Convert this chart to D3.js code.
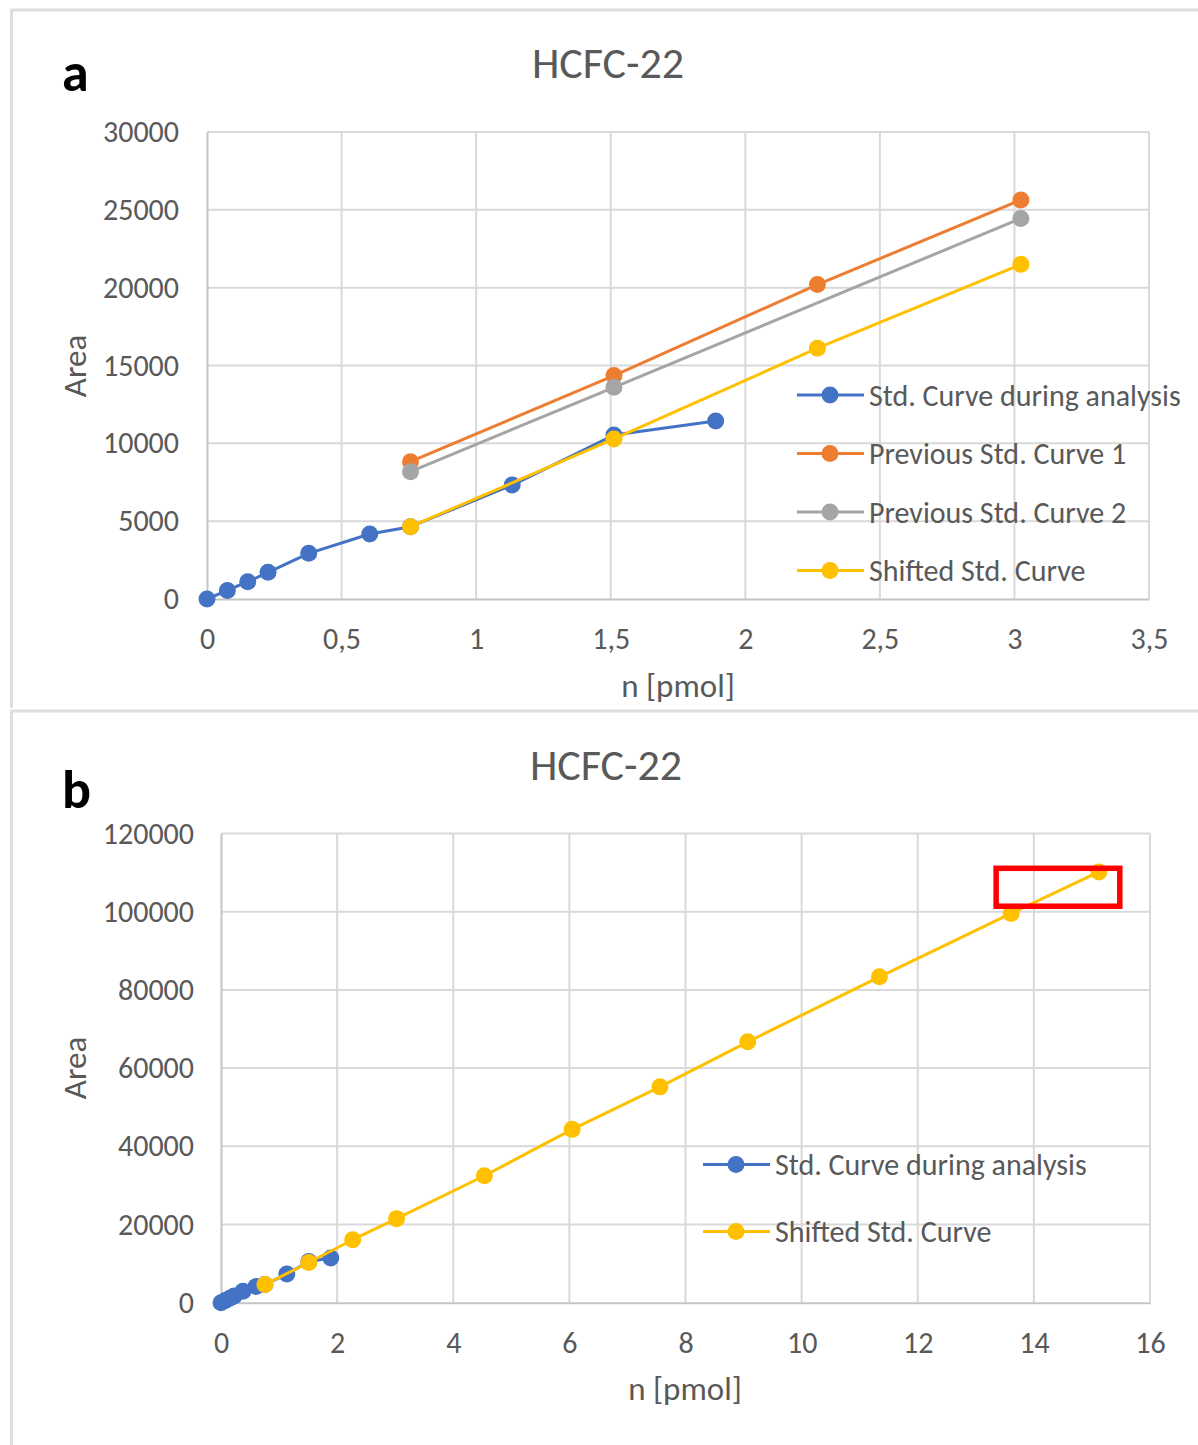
<!DOCTYPE html>
<html>
<head>
<meta charset="utf-8">
<script src="https://cdn.jsdelivr.net/npm/d3@7"></script>
<style>
  html, body { margin: 0; padding: 0; background: #fff; }
  svg { display: block; }
  text { font-family: Carlito, Calibri, Lato, "Open Sans", sans-serif; fill: #595959; }
</style>
</head>
<body>
<svg id="fig" width="1198" height="1445"></svg>
<script>
// ---- data -------------------------------------------------------------
// amounts (pmol) and peak areas for HCFC-22 calibration
const duringX   = [0, 0.0756, 0.1512, 0.2268, 0.378, 0.6048, 0.756, 1.134, 1.512, 1.89];
const duringY   = [0, 550, 1110, 1715, 2935, 4175, 4645, 7320, 10530, 11430];

const prev1X    = [0.756, 1.512, 2.268, 3.024];
const prev1Y    = [8820, 14350, 20200, 25630];

const prev2X    = [0.756, 1.512, 3.024];
const prev2Y    = [8180, 13600, 24450];

const shiftedX  = [0.756, 1.512, 2.268, 3.024, 4.536, 6.048, 7.56, 9.072, 11.34, 13.608, 15.12];
const shiftedY  = [4645, 10280, 16110, 21500, 32470, 44330, 55200, 66720, 83340, 99550, 110180];

// panel a shows the shifted curve only up to 3.024 pmol
const shiftedShortCount = 4;

// highlighted region in panel b (pmol, area)
const highlightX = [13.35, 15.48];
const highlightY = [101400, 111100];

const xTicksA = [0, 0.5, 1, 1.5, 2, 2.5, 3, 3.5];
const yTicksA = [0, 5000, 10000, 15000, 20000, 25000, 30000];
const xTicksB = [0, 2, 4, 6, 8, 10, 12, 14, 16];
const yTicksB = [0, 20000, 40000, 60000, 80000, 100000, 120000];

const seriesNames = ["Std. Curve during analysis", "Previous Std. Curve 1", "Previous Std. Curve 2", "Shifted Std. Curve"];
const colors = { during: "#4472C4", prev1: "#ED7D31", prev2: "#A5A5A5", shifted: "#FFC000" };

const zip = (xs, ys) => xs.map((x, i) => ({ x, y: ys[i] }));

// ---- drawing ---------------------------------------------------------
const svg = d3.select("#fig");

// panel frames
svg.append("path")
  .attr("d", "M11.5,708 V10 H1198")
  .attr("fill", "none").attr("stroke", "#dedede").attr("stroke-width", 3);
svg.append("path")
  .attr("d", "M11.5,1445 V711 H1198")
  .attr("fill", "none").attr("stroke", "#dedede").attr("stroke-width", 3);

const fmtComma = d => String(d).replace(".", ",");

function panel(cfg) {
  const g = svg.append("g");
  const x = d3.scaleLinear().domain(cfg.xDomain).range([cfg.left, cfg.right]);
  const y = d3.scaleLinear().domain(cfg.yDomain).range([cfg.bottom, cfg.top]);

  // gridlines
  g.append("g").selectAll("line.v").data(cfg.xTicks.slice(1)).join("line")
    .attr("x1", d => x(d)).attr("x2", d => x(d))
    .attr("y1", cfg.top).attr("y2", cfg.bottom)
    .attr("stroke", "#d9d9d9").attr("stroke-width", 2);
  g.append("g").selectAll("line.h").data(cfg.yTicks.slice(1)).join("line")
    .attr("x1", cfg.left).attr("x2", cfg.right)
    .attr("y1", d => y(d)).attr("y2", d => y(d))
    .attr("stroke", "#d9d9d9").attr("stroke-width", 2);

  // axes
  const xAxis = g.append("g").attr("transform", `translate(0,${cfg.bottom})`)
    .call(d3.axisBottom(x).tickValues(cfg.xTicks).tickSize(0).tickPadding(29).tickFormat(cfg.xFormat));
  xAxis.select(".domain").attr("stroke", "#c4c4c4").attr("stroke-width", 2);
  xAxis.selectAll("text").attr("font-size", 30).attr("fill", "#595959");

  const yAxis = g.append("g").attr("transform", `translate(${cfg.left},0)`)
    .call(d3.axisLeft(y).tickValues(cfg.yTicks).tickSize(0).tickPadding(cfg.yPad).tickFormat(d => String(d)));
  yAxis.select(".domain").attr("stroke", "#c4c4c4").attr("stroke-width", 2);
  yAxis.selectAll("text").attr("font-size", 30).attr("fill", "#595959");
  g.selectAll(".tick text").style("font-family", "Carlito, Calibri, Lato, sans-serif");

  // titles
  g.append("text").attr("x", cfg.titleX).attr("y", cfg.titleY)
    .attr("text-anchor", "middle").attr("font-size", 44).text("HCFC-22");
  g.append("text").attr("x", 62).attr("y", cfg.letterY)
    .attr("font-size", 54).attr("font-weight", "bold").style("fill", "#000").text(cfg.letter);
  g.append("text").attr("x", cfg.xLabelX).attr("y", cfg.xLabelY)
    .attr("text-anchor", "middle").attr("font-size", 33).text("n [pmol]");
  g.append("text")
    .attr("transform", `translate(${cfg.yLabelX},${cfg.yLabelY}) rotate(-90)`)
    .attr("text-anchor", "middle").attr("font-size", 33).text("Area");

  // series
  const line = d3.line().x(d => x(d.x)).y(d => y(d.y));
  cfg.series.forEach(s => {
    const sg = g.append("g");
    sg.append("path").datum(s.data).attr("d", line)
      .attr("fill", "none").attr("stroke", s.color).attr("stroke-width", 3)
      .attr("stroke-linejoin", "round");
    sg.selectAll("circle").data(s.data).join("circle")
      .attr("cx", d => x(d.x)).attr("cy", d => y(d.y)).attr("r", cfg.r)
      .attr("fill", s.color);
  });

  // legend
  const lg = g.append("g");
  cfg.legend.forEach((item, i) => {
    const yy = cfg.legendY + i * cfg.legendStep;
    lg.append("line").attr("x1", cfg.legendX).attr("x2", cfg.legendX + 67)
      .attr("y1", yy).attr("y2", yy).attr("stroke", item.color).attr("stroke-width", 3);
    lg.append("circle").attr("cx", cfg.legendX + 33).attr("cy", yy).attr("r", cfg.r).attr("fill", item.color);
    lg.append("text").attr("x", cfg.legendX + 72).attr("y", yy).attr("dy", "0.35em")
      .attr("font-size", 30).text(item.name);
  });

  return { g, x, y };
}

// panel a
panel({
  letter: "a", letterY: 91,
  left: 207, right: 1149, top: 132, bottom: 599,
  xDomain: [0, 3.5], yDomain: [0, 30000],
  xTicks: xTicksA, yTicks: yTicksA, xFormat: fmtComma, yPad: 28,
  titleX: 608, titleY: 78,
  xLabelX: 678, xLabelY: 697, yLabelX: 86, yLabelY: 366,
  r: 8.5,
  series: [
    { data: zip(duringX, duringY), color: colors.during },
    { data: zip(prev1X, prev1Y), color: colors.prev1 },
    { data: zip(prev2X, prev2Y), color: colors.prev2 },
    { data: zip(shiftedX.slice(0, shiftedShortCount), shiftedY.slice(0, shiftedShortCount)), color: colors.shifted }
  ],
  legendX: 797, legendY: 395, legendStep: 58.5,
  legend: [
    { name: seriesNames[0], color: colors.during },
    { name: seriesNames[1], color: colors.prev1 },
    { name: seriesNames[2], color: colors.prev2 },
    { name: seriesNames[3], color: colors.shifted }
  ]
});

// panel b
const pb = panel({
  letter: "b", letterY: 808,
  left: 221, right: 1150, top: 833.5, bottom: 1302.7,
  xDomain: [0, 16], yDomain: [0, 120000],
  xTicks: xTicksB, yTicks: yTicksB, xFormat: d => String(d), yPad: 27,
  titleX: 606, titleY: 780,
  xLabelX: 685, xLabelY: 1400, yLabelX: 86, yLabelY: 1068,
  r: 8.5,
  series: [
    { data: zip(duringX, duringY), color: colors.during },
    { data: zip(shiftedX, shiftedY), color: colors.shifted }
  ],
  legendX: 703, legendY: 1164.5, legendStep: 67,
  legend: [
    { name: seriesNames[0], color: colors.during },
    { name: seriesNames[3], color: colors.shifted }
  ]
});

// highlight box around the top calibration points
pb.g.append("rect")
  .attr("x", pb.x(highlightX[0])).attr("y", pb.y(highlightY[1]))
  .attr("width", pb.x(highlightX[1]) - pb.x(highlightX[0]))
  .attr("height", pb.y(highlightY[0]) - pb.y(highlightY[1]))
  .attr("fill", "none").attr("stroke", "#FF0000").attr("stroke-width", 5.5);
</script>
</body>
</html>
